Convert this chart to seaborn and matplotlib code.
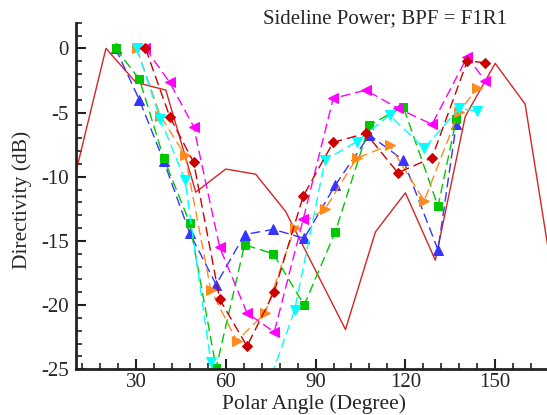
import numpy as np
import pandas as pd
import matplotlib
matplotlib.use('Agg')
import matplotlib.pyplot as plt
import seaborn as sns
from matplotlib.ticker import MultipleLocator

# Solid reference line
ref_angle = [10, 20, 30, 40, 50, 60, 70, 80, 90, 100, 110, 120, 130, 140, 150, 160, 170]
ref_db = [-9.6, 0.0, -2.65, -3.25, -11.2, -9.4, -9.8, -12.7, -17.3, -21.9, -14.3, -11.25,
          -16.5, -5.3, -1.17, -4.34, -19.0]

# Angles of the dashed series (shared in pairs)
angle_a = [23.2, 31.2, 39.3, 48.0, 56.8, 66.3, 75.9, 86.2, 96.6, 108.0, 119.3, 130.9, 137.0]
angle_b = [30.3, 38.2, 46.4, 55.0, 63.7, 73.2, 83.0, 93.2, 103.7, 114.7, 126.3, 137.9, 144.0]
angle_c = [33.2, 41.3, 49.3, 58.0, 67.1, 76.2, 85.9, 95.9, 106.8, 117.5, 128.9, 140.7, 146.6]

blue_db = [0.0, -4.03, -8.78, -14.4, -18.4, -14.5, -14.1, -14.8, -10.65, -6.75, -8.7, -15.7, -5.9]
green_db = [0.0, -2.41, -8.57, -13.6, -24.9, -15.3, -16.0, -20.0, -14.3, -5.97, -4.55, -12.3, -5.53]
orange_db = [0.0, -5.27, -8.31, -18.8, -22.8, -20.6, -14.0, -12.5, -8.57, -7.53, -11.87, -4.94, -3.12]
cyan_db = [0.0, -5.53, -10.26, -24.4, -32.0, -26.9, -20.4, -8.7, -7.27, -5.2, -7.79, -4.67, -4.88]
magenta_db = [0.0, -2.65, -6.1, -15.5, -20.6, -22.1, -13.3, -3.9, -3.25, -4.67, -5.92, -0.65, -2.52]
red_db = [0.0, -5.32, -8.88, -19.55, -23.2, -18.96, -11.5, -7.32, -6.62, -9.69, -8.52, -0.97, -1.12]

series = [
    ('blue', angle_a, blue_db, '#3535ff', '^', 6.5),
    ('green', angle_a, green_db, '#00c800', 's', 5.5),
    ('orange', angle_b, orange_db, '#ff8a1c', '>', 6.5),
    ('cyan', angle_b, cyan_db, '#00ffff', 'v', 6.5),
    ('magenta', angle_c, magenta_db, '#ff00ff', '<', 6.5),
    ('red', angle_c, red_db, '#cc0000', 'D', 5.5),
]

sns.set_style('ticks')
plt.rcParams['font.family'] = ['Liberation Serif', 'DejaVu Serif']

fig = plt.figure(figsize=(5.47, 4.15), dpi=100)
ax = fig.add_axes([76 / 547, 1 - 369.3 / 415, 1 - 76 / 547, (369.3 - 22.7) / 415])

ref_df = pd.DataFrame({'angle': ref_angle, 'db': ref_db})
sns.lineplot(data=ref_df, x='angle', y='db', ax=ax, color='#d42424', linewidth=1.0,
             sort=False, estimator=None)

for name, ang, vals, col, mk, ms in series:
    df = pd.DataFrame({'angle': ang, 'db': vals})
    sns.lineplot(data=df, x='angle', y='db', ax=ax, color=col, linewidth=1.0,
                 linestyle=(0, (7, 3.5)), marker=mk, markersize=ms,
                 markeredgecolor=col, markerfacecolor=col, sort=False, estimator=None)

ax.set_xlim(10, 167.3)
ax.set_ylim(-25, 2)
ax.xaxis.set_major_locator(MultipleLocator(30))
ax.xaxis.set_minor_locator(MultipleLocator(6))
ax.yaxis.set_minor_locator(MultipleLocator(1))
ax.set_yticks([0, -5, -10, -15, -20, -25])
ax.set_yticklabels(['0', '-5', '-10', '-15', '-20', '-25'])
ax.tick_params(which='major', direction='in', length=7, width=1.5, labelsize=15, pad=3, color='#222222')
ax.tick_params(axis='y', which='major', pad=5)
ax.tick_params(which='minor', direction='in', length=4, width=1.2, color='#222222')
ax.spines['top'].set_visible(False)
ax.spines['right'].set_visible(False)
for s in ['left', 'bottom']:
    ax.spines[s].set_linewidth(2)
    ax.spines[s].set_color('#222222')
ax.set_xlabel('')
ax.set_ylabel('')

fig.text(385 / 547, 1 - 19 / 415, 'Sideline Power; BPF = F1R1', ha='center', va='center', fontsize=15)
fig.text(314 / 547, 1 - 404 / 415, 'Polar Angle (Degree)', ha='center', va='center', fontsize=15.5)
fig.text(22 / 547, 1 - 200 / 415, 'Directivity (dB)', ha='center', va='center', rotation=90, fontsize=15.5)

fig.savefig('out.png', dpi=100)
